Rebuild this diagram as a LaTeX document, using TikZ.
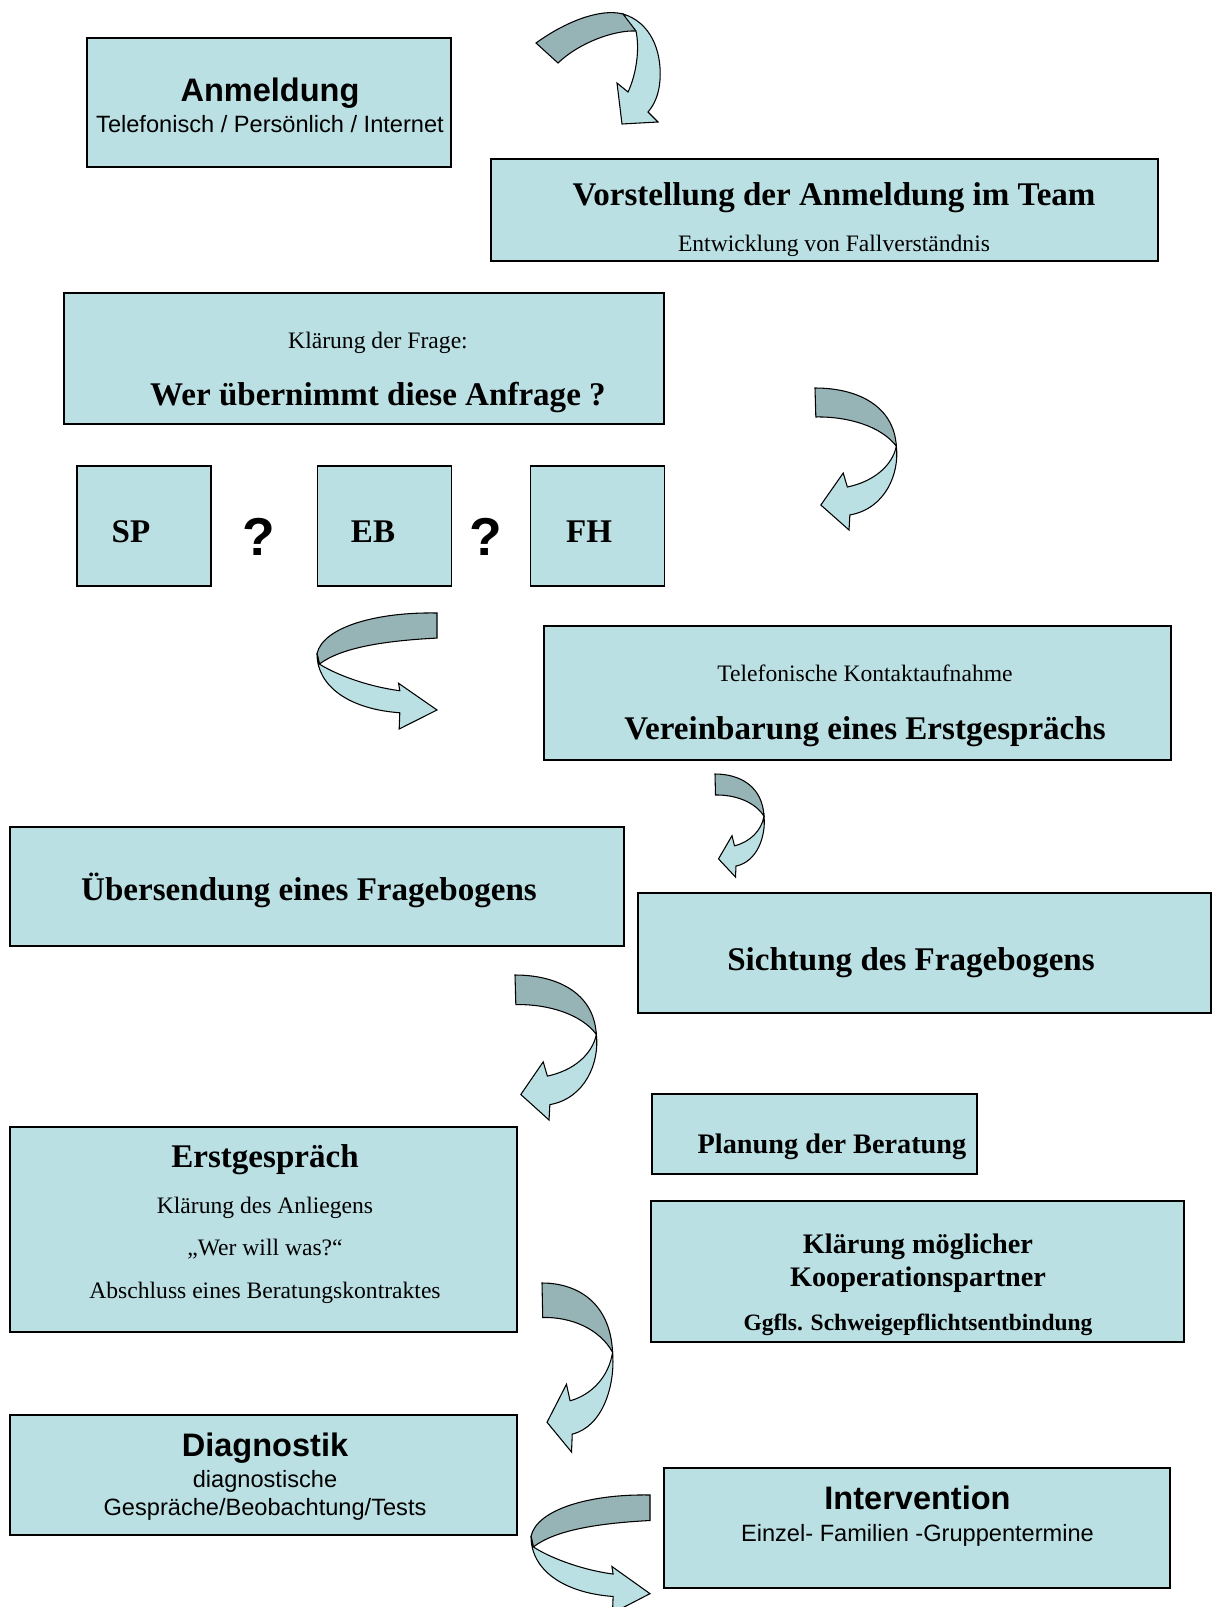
\documentclass[tikz,border=0pt]{standalone}
\usepackage{fontspec}
\setmainfont{Liberation Serif}
\setsansfont{Liberation Sans}
\usepackage{tikz}
\usetikzlibrary{positioning}
\definecolor{boxblue}{HTML}{BBE0E3}
\definecolor{ribbondark}{HTML}{96B3B6}
\newcommand{\px}{0.75pt}
\newcommand{\bigbf}{\fontsize{24.8}{28}\selectfont\bfseries}
\newcommand{\bigsans}{\fontsize{24.4}{28}\selectfont\bfseries}
\tikzset{
    box/.style={rectangle, draw=black, fill=boxblue, line width=0.9pt, inner sep=0pt},
    boxsize/.style 2 args={minimum width=#1*\px, minimum height=#2*\px},
    txt/.style={align=center, inner sep=0pt},
    ribbonback/.style={fill=ribbondark, draw=black, line width=0.8pt},
    ribbonfront/.style={fill=boxblue, draw=black, line width=0.8pt},
    % ribbon arrow turning down, head pointing back left
    curvarrow/.pic={
        \filldraw[ribbonback] (0,0) .. controls (0.5,0) and (0.95,0.12) .. (0.98,0.41)
            .. controls (0.8,0.27) and (0.4,0.2) .. (0.01,0.204) -- cycle;
        \filldraw[ribbonfront] (0.98,0.41) .. controls (1.02,0.6) and (0.85,0.85) .. (0.42,0.894)
            -- (0.41,1) -- (0.07,0.824) -- (0.34,0.599) -- (0.39,0.697)
            .. controls (0.7,0.66) and (0.93,0.55) .. (0.98,0.41) -- cycle;
    },
    % flatter ribbon arrow, head back under the tail
    flatarrow/.pic={
        \filldraw[ribbonback] (0,0) .. controls (0.5,-0.01) and (0.95,0.12) .. (1,0.35)
            -- (0.98,0.44) .. controls (0.8,0.3) and (0.45,0.24) .. (0,0.216) -- cycle;
        \filldraw[ribbonfront] (1,0.35) .. controls (1,0.64) and (0.72,0.83) .. (0.31,0.86)
            -- (0.315,1) -- (0,0.836) -- (0.32,0.606) -- (0.31,0.67)
            .. controls (0.6,0.63) and (0.86,0.52) .. (0.98,0.44) -- cycle;
    },
}

\begin{document}
\begin{tikzpicture}[x=0.75pt, y=-0.75pt]
    \useasboundingbox (0,0) rectangle (1215,1607);

    % boxes
    \node [box, boxsize={364}{129}] (anmeldung) at (269,102.5) {};
    \node [box, boxsize={667}{102}] (vorstellung) at (824.5,210) {};
    \node [box, boxsize={600}{131}] (klaerung) at (364,358.5) {};
    \node [box, boxsize={134}{120}] (sp) at (144,526) {};
    \node [box, boxsize={134}{120}] (eb) at (384.5,526) {};
    \node [box, boxsize={134}{120}] (fh) at (597.5,526) {};
    \node [box, boxsize={627}{134}] (telefon) at (857.5,693) {};
    \node [box, boxsize={614}{119}] (uebersendung) at (317,886.5) {};
    \node [box, boxsize={573}{120}] (sichtung) at (924.5,953) {};
    \node [box, boxsize={507}{205}] (erstgespraech) at (263.5,1229.5) {};
    \node [box, boxsize={325}{80}] (planung) at (814.5,1134) {};
    \node [box, boxsize={533}{141}] (kooperation) at (917.5,1271.5) {};
    \node [box, boxsize={507}{120}] (diagnostik) at (263.5,1475) {};
    \node [box, boxsize={506}{120}] (intervention) at (917,1528) {};

    % texts
    \node [txt, font=\sffamily\fontsize{17.7}{23.5}\selectfont] (anmeldungText) at (270,105)
        {{\bigsans Anmeldung}\\Telefonisch / Persönlich / Internet};
    \node [txt, font=\fontsize{17.7}{34.5}\selectfont] (vorstellungText) at (834,219.5)
        {{\bigbf Vorstellung der Anmeldung im Team}\\Entwicklung von Fallverständnis};
    \node [txt, font=\fontsize{17.7}{42.75}\selectfont] (klaerungText) at (378,372)
        {Klärung der Frage:\\{\bigbf Wer übernimmt diese Anfrage ?}};
    \node [txt, font=\bigbf] (spText) at (131,532) {SP};
    \node [txt, font=\bigbf] (ebText) at (373,532) {EB};
    \node [txt, font=\bigbf] (fhText) at (589,532) {FH};
    \node [txt, font=\sffamily\bfseries\fontsize{40}{48}\selectfont] (frage1) at (259,537) {?};
    \node [txt, font=\sffamily\bfseries\fontsize{40}{48}\selectfont] (frage2) at (486,537) {?};
    \node [txt, font=\fontsize{17.7}{43.75}\selectfont] (telefonText) at (865,705.5)
        {Telefonische Kontaktaufnahme\\{\bigbf Vereinbarung eines Erstgesprächs}};
    \node [txt, font=\bigbf] (uebersendungText) at (309,890) {Übersendung eines Fragebogens};
    \node [txt, font=\bigbf] (sichtungText) at (911,962.5) {Sichtung des Fragebogens};
    \node [txt, font=\fontsize{17.7}{32}\selectfont] (erstText) at (265,1224)
        {{\bigbf Erstgespräch}\\[2.5pt]Klärung des Anliegens\\„Wer will was?“\\Abschluss eines Beratungskontraktes};
    \node [txt, font=\fontsize{21.2}{25}\selectfont\bfseries] (planungText) at (832,1146.5) {Planung der Beratung};
    \node [txt, font=\fontsize{21.2}{25}\selectfont\bfseries] (koopText) at (918,1285)
        {Klärung möglicher\\Kooperationspartner\\[8pt]{\fontsize{17.6}{21}\selectfont Ggfls. Schweigepflichtsentbindung}};
    \node [txt, font=\sffamily\fontsize{17.7}{21}\selectfont] (diagText) at (265,1476.5)
        {{\bigsans Diagnostik}\\[2pt]diagnostische\\Gespräche/Beobachtung/Tests};
    \node [txt, font=\sffamily\fontsize{17.7}{24.3}\selectfont] (interText) at (917.5,1516)
        {{\bigsans Intervention}\\Einzel- Familien -Gruppentermine};

    % curved arrows
    \filldraw [ribbonback] (536,43) .. controls (565,22) and (600,8) .. (623,14)
        .. controls (630,17) and (634,24) .. (636,31)
        .. controls (615,30) and (580,42) .. (558,63) -- cycle;
    \filldraw [ribbonfront] (623,14) .. controls (650,22) and (662,50) .. (660,80)
        .. controls (659,95) and (654,105) .. (648,112) -- (658,122) -- (622,124)
        -- (617,83) -- (628,92) .. controls (636,75) and (640,50) .. (636,31) -- cycle;
    \pic [xscale=83, yscale=142] at (815,388) {curvarrow};
    \pic [xscale=-120, yscale=116] at (437,613) {flatarrow};
    \pic [xscale=50, yscale=103] at (715,774) {curvarrow};
    \pic [xscale=83, yscale=145] at (515,975) {curvarrow};
    \pic [xscale=72, yscale=169] at (542,1283) {curvarrow};
    \pic [xscale=-119, yscale=118] at (650,1495) {flatarrow};
\end{tikzpicture}
\end{document}
